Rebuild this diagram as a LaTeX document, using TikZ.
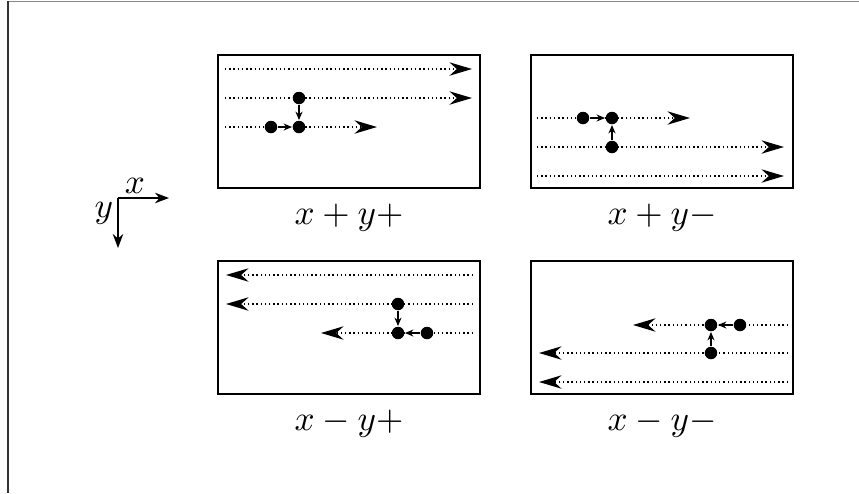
\documentclass[tikz,border=0pt]{standalone}
\usepackage{tikz}
\usetikzlibrary{arrows.meta, positioning}
\definecolor{FrameGray}{RGB}{136,136,136}
\definecolor{FrameDark}{RGB}{51,51,51}

\begin{document}
\begin{tikzpicture}[x=0.01cm,y=-0.01cm,
    frame/.style={draw,minimum width=2.62cm,minimum height=1.33cm,inner sep=0pt},
    trail/.style={line width=0.5pt,dash pattern=on 0.4pt off 0.8pt,-{Stealth[length=6.4pt,width=3.8pt]}},
    dot/.style={circle,fill,inner sep=0pt,minimum size=1.25mm},
    hop/.style={-{Stealth[length=2.4pt,width=2pt]}},
    axis/.style={-{Stealth[length=4pt,width=3pt]}}]
  \useasboundingbox (0,0) rectangle (859,493);
  % page frame
  \draw[FrameGray] (8,1.5) -- (859,1.5);
  \draw[FrameDark,line width=0.45pt] (8,1) -- (8,493);
  % axes
  \coordinate (o) at (118,198);
  \coordinate (ox) at (169,198);
  \coordinate (oy) at (118,248);
  \draw[axis] (o) -- node[pos=0.33,above,inner sep=1pt] {$x$} (ox);
  \draw[axis] (o) -- node[pos=0.3,left,inner sep=1.2pt] {$y$} (oy);
  % boxes
  \node[frame] (q1) at (349,121.5) {};
  \node[frame] (q2) at (662,121.5) {};
  \node[frame] (q3) at (349,327.5) {};
  \node[frame] (q4) at (662,327.5) {};
  \node[below=0.3mm of q1] (l1) {$x+y+$};
  \node[below=0.3mm of q2] (l2) {$x+y-$};
  \node[below=0.3mm of q3] (l3) {$x-y+$};
  \node[below=0.3mm of q4] (l4) {$x-y-$};
  % trails
  \foreach \n/\y/\xa/\xb in {1/69/225/472, 2/98/225/472, 3/127/225/377,
      4/118/537/690, 5/147/537/784, 6/176/537/784,
      7/275/473/226, 8/304/473/226, 9/333/473/321,
      10/325/788/633, 11/353/788/539, 12/382/788/539}{
    \coordinate (a\n) at (\xa,\y);
    \coordinate (b\n) at (\xb,\y);
    \draw[trail] (a\n) -- (b\n);
  }
  % x+y+
  \node[dot] (p1) at (299,98) {};
  \node[dot] (p2) at (299,127) {};
  \node[dot] (p3) at (271,127) {};
  \draw[hop] (p1) -- (p2);
  \draw[hop] (p3) -- (p2);
  % x+y-
  \node[dot] (r1) at (583,118) {};
  \node[dot] (r2) at (612,118) {};
  \node[dot] (r3) at (612,147) {};
  \draw[hop] (r1) -- (r2);
  \draw[hop] (r3) -- (r2);
  % x-y+
  \node[dot] (s1) at (398,304) {};
  \node[dot] (s2) at (398,333) {};
  \node[dot] (s3) at (427,333) {};
  \draw[hop] (s1) -- (s2);
  \draw[hop] (s3) -- (s2);
  % x-y-
  \node[dot] (t1) at (711,325) {};
  \node[dot] (t2) at (740,325) {};
  \node[dot] (t3) at (711,353) {};
  \draw[hop] (t2) -- (t1);
  \draw[hop] (t3) -- (t1);
\end{tikzpicture}
\end{document}
